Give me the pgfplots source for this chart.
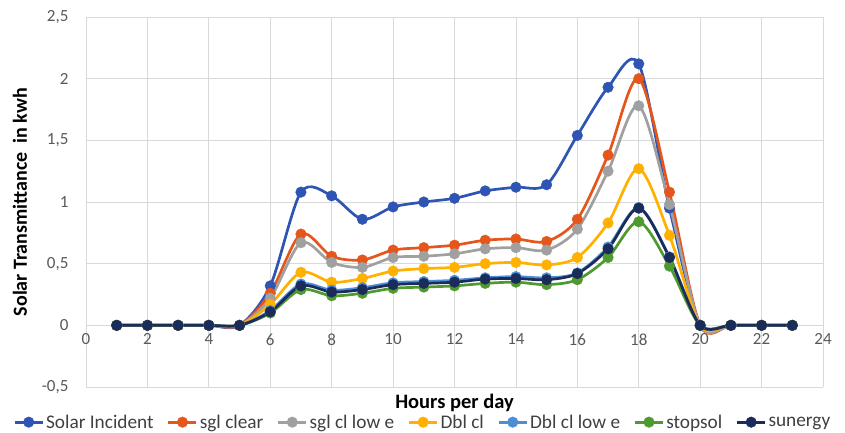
\documentclass[border=0pt]{standalone}
\usepackage{pgfplots}
\usepackage{pgfplotstable}
\pgfplotsset{compat=1.18}
\usepackage{fontspec}
\setmainfont{Carlito}

\definecolor{cSolar}{RGB}{46,84,180}
\definecolor{cSgl}{RGB}{229,86,28}
\definecolor{cSglLow}{RGB}{160,160,160}
\definecolor{cDbl}{RGB}{255,176,0}
\definecolor{cDblLow}{RGB}{76,142,214}
\definecolor{cStop}{RGB}{78,154,47}
\definecolor{cSun}{RGB}{27,43,90}
\definecolor{gridgray}{RGB}{217,217,217}
\definecolor{ticktext}{RGB}{89,89,89}
\definecolor{legtext}{RGB}{64,64,64}

% hourly transmitted solar energy (kWh) per glazing type
\pgfplotstableread{
hour solar sgl sgllow dbl dbllow stop sun
1  0    0    0    0    0     0    0
2  0    0    0    0    0     0    0
3  0    0    0    0    0     0    0
4  0    0    0    0    0     0    0
5  0    0    0    0    0     0    0
6  0.32 0.26 0.22 0.17 0.12  0.10 0.11
7  1.08 0.74 0.67 0.43 0.335 0.29 0.32
8  1.05 0.56 0.51 0.35 0.285 0.24 0.27
9  0.86 0.53 0.47 0.38 0.305 0.26 0.29
10 0.96 0.61 0.55 0.44 0.345 0.30 0.33
11 1.00 0.63 0.56 0.46 0.355 0.31 0.34
12 1.03 0.65 0.58 0.47 0.365 0.32 0.35
13 1.09 0.69 0.62 0.50 0.385 0.34 0.375
14 1.12 0.70 0.63 0.51 0.395 0.35 0.38
15 1.14 0.68 0.61 0.49 0.385 0.33 0.37
16 1.54 0.86 0.78 0.55 0.425 0.37 0.42
17 1.93 1.38 1.25 0.83 0.635 0.55 0.62
18 2.12 2.00 1.78 1.27 0.955 0.84 0.95
19 0.95 1.08 0.98 0.73 0.555 0.48 0.55
20 0    0    0    0    0     0    0
21 0    0    0    0    0     0    0
22 0    0    0    0    0     0    0
23 0    0    0    0    0     0    0
}\glazing

\pgfplotsset{
  series/.style={smooth, line width=2.7pt, color=#1, mark=*,
    mark size=5.3pt, mark options={solid, fill=#1, draw=#1, line width=0.4pt}},
}

\begin{document}
\begin{tikzpicture}
\begin{axis}[
  scale only axis, width=737pt, height=370pt,
  xmin=0, xmax=24, ymin=-0.5, ymax=2.5,
  xtick={0,2,...,24}, ytick={-0.5,0,0.5,1,1.5,2,2.5},
  axis x line*=middle, axis y line*=left,
  hide obscured x ticks=false, hide obscured y ticks=false,
  axis line style={draw=gridgray, line width=0.8pt, -},
  grid=major, grid style={draw=gridgray, line width=0.8pt},
  major tick length=0pt,
  /pgf/number format/use comma,
  /pgf/number format/assume math mode=true,
  ticklabel style={font=\fontsize{17}{20}\selectfont, text=ticktext},
  xticklabel style={yshift=-5pt},
  yticklabel style={xshift=-14pt},
  xlabel={Hours per day},
  ylabel={Solar Transmittance\ \ in kwh},
  xlabel style={at={(axis description cs:0.5,-0.043)}, anchor=center,
    font=\bfseries\fontsize{20.5}{24}\selectfont},
  ylabel style={at={(axis description cs:-0.0896,0.5)}, anchor=center, rotate=0,
    font=\bfseries\fontsize{20}{24}\selectfont},
  clip=false,
  legend columns=7,
  legend style={at={(axis description cs:0.457,-0.095)}, anchor=center,
    draw=none, fill=none, font=\fontsize{19.3}{22}\selectfont, text=legtext,
    /tikz/every even column/.append style={column sep=11.5pt},
    inner sep=0pt},
  legend image code/.code={
    \draw[mark repeat=2, mark phase=2, sharp plot]
      plot coordinates {(0pt,0pt) (14pt,0pt) (28pt,0pt)};},
]
\addplot[series=cSolar]   table[x=hour, y=solar]  {\glazing};
\addlegendentry{Solar Incident}
\addplot[series=cSgl]     table[x=hour, y=sgl]    {\glazing};
\addlegendentry{sgl clear}
\addplot[series=cSglLow]  table[x=hour, y=sgllow] {\glazing};
\addlegendentry{sgl cl low e}
\addplot[series=cDbl]     table[x=hour, y=dbl]    {\glazing};
\addlegendentry{Dbl cl}
\addplot[series=cDblLow]  table[x=hour, y=dbllow] {\glazing};
\addlegendentry{Dbl cl low e}
\addplot[series=cStop]    table[x=hour, y=stop]   {\glazing};
\addlegendentry{stopsol}
\addplot[series=cSun]     table[x=hour, y=sun]    {\glazing};
\addlegendentry{sunergy}
\end{axis}
\pgfresetboundingbox
\path[use as bounding box] (-86pt,-45pt) rectangle (759pt,387pt);
\end{tikzpicture}
\end{document}
